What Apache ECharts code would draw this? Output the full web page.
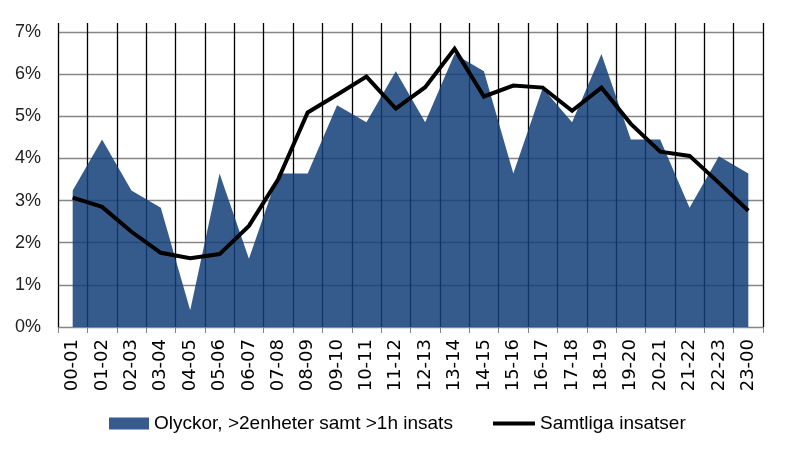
<!DOCTYPE html>
<html>
<head>
<meta charset="utf-8">
<script src="https://cdn.jsdelivr.net/npm/echarts@6/dist/echarts.min.js"></script>
<style>html,body{margin:0;padding:0;background:#fff}#c{width:786px;height:453px}</style>
</head>
<body>
<div id="c"></div>
<script>
const categories = ['00-01','01-02','02-03','03-04','04-05','05-06','06-07','07-08','08-09','09-10','10-11','11-12','12-13','13-14','14-15','15-16','16-17','17-18','18-19','19-20','20-21','21-22','22-23','23-00'];
const olyckor = [3.24,4.45,3.24,2.83,0.40,3.64,1.62,3.64,3.64,5.26,4.86,6.07,4.86,6.48,6.07,3.64,5.67,4.86,6.48,4.45,4.45,2.83,4.05,3.64];
const samtliga = [3.07,2.85,2.26,1.76,1.63,1.73,2.40,3.51,5.09,5.51,5.94,5.18,5.69,6.60,5.47,5.73,5.68,5.13,5.68,4.82,4.16,4.06,3.42,2.76];
const yTicks = [0,1,2,3,4,5,6,7];
const seriesNames = ['Olyckor, >2enheter samt >1h insats','Samtliga insatser'];

const chart = echarts.init(document.getElementById('c'), null, {renderer:'canvas'});
const font = 'Liberation Sans, Arial, sans-serif';
chart.setOption({
  animation:false,
  grid:[
    {left:58,right:23,top:32,bottom:126},
    {left:58,right:23,top:23,bottom:126}
  ],
  xAxis:[
    {type:'category',gridIndex:0,data:categories,boundaryGap:true,
     axisLine:{show:true,lineStyle:{color:'#868686',width:1}},
     axisTick:{show:true,interval:0,length:6,lineStyle:{color:'#868686'}},
     axisLabel:{interval:0,rotate:90,fontSize:18,fontFamily:'DejaVu Sans',color:'#000',margin:12},
     splitLine:{show:false}},
    {type:'category',gridIndex:1,data:categories,boundaryGap:true,
     axisLine:{show:false},axisTick:{show:false},axisLabel:{show:false},
     splitLine:{show:true,interval:0,lineStyle:{color:'#000',width:1.3}}}
  ],
  yAxis:[
    {type:'value',gridIndex:0,min:yTicks[0],max:yTicks[yTicks.length-1],interval:1,
     axisLine:{show:false},axisTick:{show:false},
     axisLabel:{formatter:'{value}%',fontSize:18,fontFamily:font,color:'#222',margin:17},
     splitLine:{show:true,lineStyle:{color:'#868686',width:1.3}}},
    {type:'value',gridIndex:1,min:0,max:1,show:false,splitLine:{show:false}}
  ],
  legend:[
    {data:[{name:seriesNames[0],icon:'rect'}],left:104,top:409,itemWidth:40,itemHeight:12,itemGap:10,
     textStyle:{fontSize:19,fontFamily:font,color:'#000'}},
    {data:[{name:seriesNames[1],icon:'rect',itemStyle:{color:'#000'}}],left:488,top:409,itemWidth:42,itemHeight:4,
     textStyle:{fontSize:19,fontFamily:font,color:'#000'}}
  ],
  series:[
    {name:seriesNames[0],type:'line',xAxisIndex:0,yAxisIndex:0,data:olyckor,symbol:'none',
     color:'#375B8C',lineStyle:{width:0},
     areaStyle:{color:'rgba(18,62,120,0.85)',opacity:1},z:2},
    {name:seriesNames[1],type:'line',xAxisIndex:0,yAxisIndex:0,data:samtliga,symbol:'none',
     color:'#000',lineStyle:{width:4,color:'#000',join:'miter'},z:3}
  ]
});
</script>
</body>
</html>
